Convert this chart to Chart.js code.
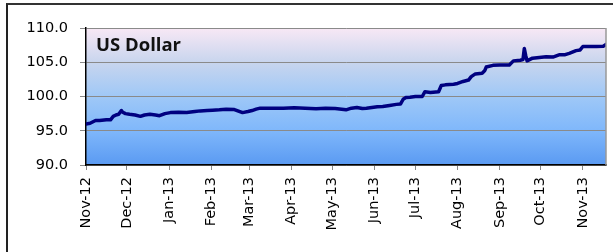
<!DOCTYPE html>
<html>
<head>
<meta charset="utf-8">
<script src="https://cdn.jsdelivr.net/npm/chart.js@4.4.0/dist/chart.umd.min.js"></script>
<style>
  html, body { margin: 0; padding: 0; background: #fff; overflow: hidden; }
  #wrap { position: relative; width: 613px; height: 252px; }
  #frame { position: absolute; left: 6px; top: 3px; width: 700px; height: 300px;
           border-top: 2px solid #333; border-left: 2px solid #222; box-sizing: border-box; }
  canvas { position: absolute; left: 0; top: 0; }
</style>
</head>
<body>
<div id="wrap">
  <div id="frame"></div>
  <canvas id="c" width="613" height="252"></canvas>
</div>
<script>
// Days since 1 Nov 2012
const days = [0,3,7,10,15,18,20,22,24,26,27,29,32,36,40,43,47,51,54,58,62,68,74,80,84,89,93,98,103,109,113,115,119,122,125,128,135,145,153,161,169,176,183,191,195,199,203,206,210,214,218,223,228,231,233,235,238,242,247,249,253,259,261,264,270,273,277,281,283,286,291,293,294,299,304,311,314,319,321,322,323,324,328,333,338,343,348,352,355,360,363,365,370,375,380,382];
const usd = [96.0,96.1,96.5,96.5,96.6,96.6,97.1,97.3,97.4,97.95,97.7,97.5,97.4,97.3,97.1,97.3,97.4,97.3,97.2,97.5,97.65,97.7,97.65,97.8,97.9,97.95,98.0,98.05,98.15,98.1,97.8,97.65,97.8,97.95,98.15,98.3,98.3,98.3,98.35,98.3,98.2,98.3,98.25,98.05,98.3,98.4,98.25,98.3,98.4,98.5,98.55,98.7,98.85,98.9,99.6,99.85,99.9,100.0,100.0,100.7,100.6,100.7,101.6,101.7,101.8,101.9,102.2,102.4,102.9,103.3,103.4,103.8,104.3,104.55,104.6,104.6,105.2,105.3,105.4,107.0,106.0,105.2,105.6,105.7,105.8,105.75,106.1,106.1,106.3,106.7,106.8,107.3,107.3,107.3,107.35,107.6];
const monthDays = [0,30,61,92,120,151,181,212,242,273,304,334,365];
const monthLabels = ['Nov-12','Dec-12','Jan-13','Feb-13','Mar-13','Apr-13','May-13','Jun-13','Jul-13','Aug-13','Sep-13','Oct-13','Nov-13'];
const yTicks = [90,95,100,105,110];
const title = 'US Dollar';

const bgPlugin = {
  id: 'bg',
  beforeDraw(chart) {
    const {ctx, chartArea: a} = chart;
    const g = ctx.createLinearGradient(0, a.top, 0, a.bottom);
    g.addColorStop(0, '#f8e8f5');
    g.addColorStop(0.25, '#c8d5ee');
    g.addColorStop(0.5, '#9fc8f7');
    g.addColorStop(0.75, '#7fb7fb');
    g.addColorStop(1, '#5a9af2');
    ctx.save();
    ctx.fillStyle = g;
    ctx.fillRect(a.left, a.top, a.right - a.left, a.bottom - a.top);
    ctx.restore();
  },
  afterDraw(chart) {
    const {ctx, chartArea: a} = chart;
    ctx.save();
    ctx.strokeStyle = '#999';
    ctx.lineWidth = 1.5;
    ctx.beginPath();
    ctx.moveTo(a.right, a.top);
    ctx.lineTo(a.right, a.bottom);
    ctx.stroke();
    ctx.fillStyle = '#111';
    ctx.font = 'bold 18.5px "Open Sans"';
    ctx.textBaseline = 'alphabetic';
    ctx.fillText(title, a.left + 10, a.top + 23);
    ctx.restore();
  }
};

new Chart(document.getElementById('c'), {
  type: 'line',
  data: {
    datasets: [{
      data: days.map((d, i) => ({x: d, y: usd[i]})),
      borderColor: '#000080',
      borderWidth: 3.5,
      borderJoinStyle: 'round',
      borderCapStyle: 'round',
      pointRadius: 0,
      tension: 0,
      fill: false
    }]
  },
  options: {
    responsive: false,
    animation: false,
    devicePixelRatio: 1,
    layout: { padding: { left: 0, right: 7, top: 28, bottom: 0 } },
    plugins: { legend: { display: false }, tooltip: { enabled: false } },
    scales: {
      x: {
        type: 'linear',
        min: 0, max: 382,
        afterBuildTicks(s) { s.ticks = monthDays.map(v => ({value: v})); },
        afterFit(s) { s.height = 87; },
        grid: { drawOnChartArea: false, drawTicks: true, tickLength: 5, color: '#888' },
        border: { color: '#000', width: 1.5 },
        ticks: {
          autoSkip: false, minRotation: 90, maxRotation: 90, padding: 7,
          color: '#000', font: { family: 'DejaVu Sans', size: 14.5 },
          callback(v) { const i = monthDays.indexOf(v); return i >= 0 ? monthLabels[i] : ''; }
        }
      },
      y: {
        min: 90, max: 110,
        afterBuildTicks(s) { s.ticks = yTicks.map(v => ({value: v})); },
        afterFit(s) { s.width = 86; },
        grid: { color: '#8a8a8a', lineWidth: 1, tickLength: 6 },
        border: { color: '#000', width: 1.5 },
        ticks: {
          padding: 12, color: '#000', font: { family: 'DejaVu Sans', size: 14.5 },
          callback(v) { return v.toFixed(1); }
        }
      }
    }
  },
  plugins: [bgPlugin]
});
</script>
</body>
</html>
